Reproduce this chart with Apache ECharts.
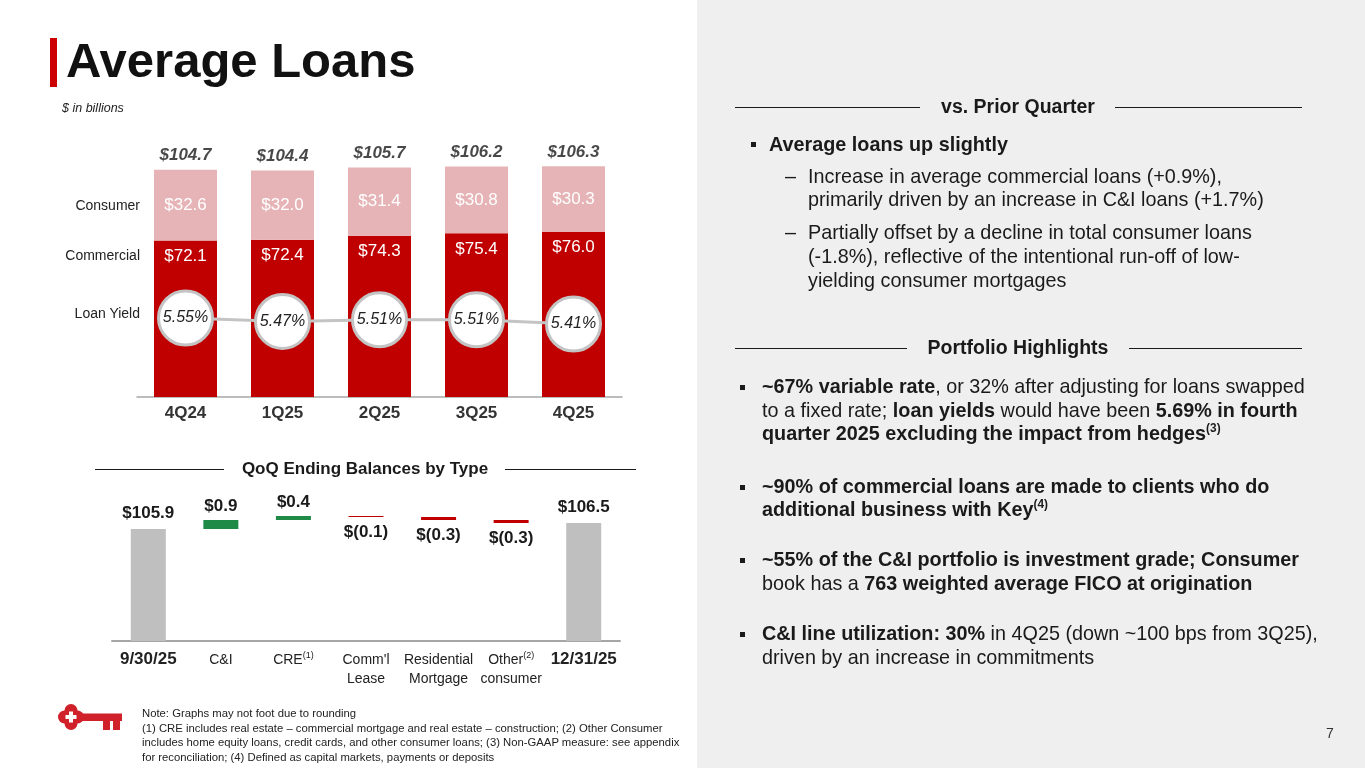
<!DOCTYPE html>
<html><head><meta charset="utf-8">
<script src="https://cdn.jsdelivr.net/npm/echarts@6/dist/echarts.min.js"></script>
<style>
html,body{margin:0;padding:0;width:1365px;height:768px;overflow:hidden;background:#fff;font-family:"Liberation Sans",Arial,sans-serif;color:#1a1a1a;}
#panel{position:absolute;left:697px;top:0;width:668px;height:768px;background:#efefef;}
#chart{position:absolute;left:0;top:0;width:1365px;height:768px;}
.t{position:absolute;white-space:nowrap;line-height:1;}
.c{position:absolute;white-space:nowrap;line-height:1;text-align:center;}
.hl{position:absolute;height:1px;background:#1a1a1a;}
sup{font-size:60%;vertical-align:top;position:relative;top:-1px;}
.r{font-size:19.8px;}
.bl{position:absolute;width:5px;height:5px;background:#1a1a1a;}
b{font-weight:bold;}
</style></head>
<body>
<div id="panel"></div>
<div id="chart"></div>

<!-- title -->
<div style="position:absolute;left:50px;top:38px;width:7px;height:49px;background:#cc0000;"></div>
<div class="t" style="left:66px;top:36px;font-size:49px;font-weight:bold;color:#111;">Average Loans</div>
<div class="t" style="left:62px;top:102px;font-size:12.5px;font-style:italic;color:#222;">$ in billions</div>

<!-- left labels -->
<div class="t" style="right:1225px;top:198px;font-size:14px;color:#222;">Consumer</div>
<div class="t" style="right:1225px;top:248px;font-size:14px;color:#222;">Commercial</div>
<div class="t" style="right:1225px;top:306px;font-size:14px;color:#222;">Loan Yield</div>

<!-- waterfall heading -->
<div class="hl" style="left:95px;top:469px;width:129px;"></div>
<div class="hl" style="left:505px;top:469px;width:131px;"></div>
<div class="c" style="left:225px;width:280px;top:460px;font-size:17px;font-weight:bold;color:#1a1a1a;">QoQ Ending Balances by Type</div>

<!-- footnote -->
<svg style="position:absolute;left:57px;top:702px;" width="72" height="30" viewBox="0 0 72 30">
  <g fill="#d0202a">
    <circle cx="14" cy="8.5" r="6.5"/><circle cx="14" cy="21.5" r="6.5"/>
    <circle cx="7.5" cy="15" r="6.5"/><circle cx="20.5" cy="15" r="6.5"/>
    <rect x="22" y="11.5" width="43" height="7.5"/>
    <rect x="46" y="16" width="7" height="12"/><rect x="56" y="16" width="7" height="12"/>
  </g>
  <g fill="#fff"><rect x="12" y="9.5" width="4" height="11"/><rect x="8.5" y="13" width="11" height="4"/></g>
</svg>
<div class="t" style="left:142px;top:706px;font-size:11.3px;line-height:14.5px;color:#222;">Note: Graphs may not foot due to rounding<br>(1) CRE includes real estate – commercial mortgage and real estate – construction; (2) Other Consumer<br>includes home equity loans, credit cards, and other consumer loans; (3) Non-GAAP measure: see appendix<br>for reconciliation; (4) Defined as capital markets, payments or deposits</div>
<div class="t" style="left:1326px;top:726px;font-size:14px;color:#333;">7</div>

<!-- right panel -->
<div class="hl" style="left:735px;top:107px;width:185px;"></div>
<div class="hl" style="left:1115px;top:107px;width:187px;"></div>
<div class="c" style="left:918px;width:200px;top:97px;font-size:19.5px;font-weight:bold;">vs. Prior Quarter</div>
<div class="bl" style="left:751px;top:142px;"></div>
<div class="t r" style="left:769px;top:135px;font-weight:bold;">Average loans up slightly</div>
<div class="t r" style="left:785px;top:167px;">–</div>
<div class="t r" style="left:808px;top:167px;">Increase in average commercial loans (+0.9%),</div>
<div class="t r" style="left:808px;top:190px;">primarily driven by an increase in C&amp;I loans (+1.7%)</div>
<div class="t r" style="left:785px;top:223px;">–</div>
<div class="t r" style="left:808px;top:223px;">Partially offset by a decline in total consumer loans</div>
<div class="t r" style="left:808px;top:247px;">(-1.8%), reflective of the intentional run-off of low-</div>
<div class="t r" style="left:808px;top:271px;">yielding consumer mortgages</div>

<div class="hl" style="left:735px;top:348px;width:172px;"></div>
<div class="hl" style="left:1129px;top:348px;width:173px;"></div>
<div class="c" style="left:908px;width:220px;top:338px;font-size:19.5px;font-weight:bold;">Portfolio Highlights</div>

<div class="bl" style="left:740px;top:385px;"></div>
<div class="t r" style="left:762px;top:377px;"><b>~67% variable rate</b>, or 32% after adjusting for loans swapped</div>
<div class="t r" style="left:762px;top:401px;">to a fixed rate; <b>loan yields</b> would have been <b>5.69% in fourth</b></div>
<div class="t r" style="left:762px;top:424px;"><b>quarter 2025 excluding the impact from hedges<sup>(3)</sup></b></div>

<div class="bl" style="left:740px;top:485px;"></div>
<div class="t r" style="left:762px;top:477px;"><b>~90% of commercial loans are made to clients who do</b></div>
<div class="t r" style="left:762px;top:500px;"><b>additional business with Key<sup>(4)</sup></b></div>

<div class="bl" style="left:740px;top:558px;"></div>
<div class="t r" style="left:762px;top:550px;"><b>~55% of the C&amp;I portfolio is investment grade; Consumer</b></div>
<div class="t r" style="left:762px;top:574px;">book has a <b>763 weighted average FICO at origination</b></div>

<div class="bl" style="left:740px;top:632px;"></div>
<div class="t r" style="left:762px;top:624px;"><b>C&amp;I line utilization: 30%</b> in 4Q25 (down ~100 bps from 3Q25),</div>
<div class="t r" style="left:762px;top:648px;">driven by an increase in commitments</div>

<script>
// ---- Average loans data ($ billions) ----
const quarters = ['4Q24', '1Q25', '2Q25', '3Q25', '4Q25'];
const commercial = [72.1, 72.4, 74.3, 75.4, 76.0];
const consumer = [32.6, 32.0, 31.4, 30.8, 30.3];
const totals = [104.7, 104.4, 105.7, 106.2, 106.3];
const loanYield = [5.55, 5.47, 5.51, 5.51, 5.41];

// ---- QoQ ending balances by type ----
const wfCategories = ['9/30/25', 'C&I', 'CRE', "Comm'l\nLease", 'Residential\nMortgage', 'Other\nconsumer', '12/31/25'];
const wfSuperscripts = ['', '', '(1)', '', '', '(2)', ''];
const wfStart = 105.9;
const wfDeltas = [0.9, 0.4, -0.1, -0.3, -0.3];
const wfEnd = 106.5;

// build waterfall stacks
const n = wfCategories.length;
const wfBase = Array(n).fill('-'), wfTotal = Array(n).fill('-'), wfUp = Array(n).fill('-'), wfDown = Array(n).fill('-');
wfTotal[0] = wfStart; wfTotal[n - 1] = wfEnd;
let run = wfStart;
wfDeltas.forEach((d, i) => {
  const idx = i + 1;
  if (d >= 0) { wfBase[idx] = +run.toFixed(2); wfUp[idx] = d; }
  else { wfBase[idx] = +(run + d).toFixed(2); wfDown[idx] = -d; }
  run += d;
});
const fmtDelta = d => d >= 0 ? '$' + d.toFixed(1) : '$(' + (-d).toFixed(1) + ')';

const FONT = '"Liberation Sans", Arial, sans-serif';
const chart = echarts.init(document.getElementById('chart'), null, { renderer: 'canvas' });

const wfLabelFormatter = (v, i) => {
  if (i === 0 || i === n - 1) return '{b|' + v + '}';
  const lines = v.split('\n');
  return lines.map((ln, k) => {
    let s = '{n|' + ln + '}';
    if (k === 0 && wfSuperscripts[i]) s += '{s|' + wfSuperscripts[i] + '}';
    return s;
  }).join('\n');
};

chart.setOption({
  animation: false,
  textStyle: { fontFamily: FONT },
  grid: [
    { left: 137, right: 743, top: 130, bottom: 371 },
    { left: 112, right: 745, top: 501, bottom: 127 }
  ],
  xAxis: [
    { type: 'category', gridIndex: 0, data: quarters,
      axisLine: { lineStyle: { color: '#a6a6a6', width: 1.5 } }, axisTick: { show: false },
      axisLabel: { color: '#333', fontSize: 17, fontWeight: 'bold', margin: 8, fontFamily: FONT } },
    { type: 'category', gridIndex: 1, data: wfCategories,
      axisLine: { lineStyle: { color: '#a6a6a6', width: 2 } }, axisTick: { show: false },
      axisLabel: { interval: 0, margin: 10, fontFamily: FONT, formatter: wfLabelFormatter,
        rich: {
          b: { fontSize: 17, fontWeight: 'bold', color: '#222', fontFamily: FONT },
          n: { fontSize: 14, color: '#222', lineHeight: 19, fontFamily: FONT },
          s: { fontSize: 9, color: '#222', verticalAlign: 'top', lineHeight: 19, padding: [0, 0, 6, 0], fontFamily: FONT }
        } } }
  ],
  yAxis: [
    { type: 'value', gridIndex: 0, min: 0, max: 123, show: false },
    { type: 'value', gridIndex: 0, min: 3.707, max: 9.937, show: false },
    { type: 'value', gridIndex: 1, min: 94.7, max: 108.7, show: false }
  ],
  series: [
    { name: 'Commercial', type: 'bar', xAxisIndex: 0, yAxisIndex: 0, stack: 'avg', barWidth: 63,
      data: commercial, itemStyle: { color: '#c00000' },
      label: { show: true, position: 'insideTop', distance: 7, color: '#fff', fontSize: 17, fontFamily: FONT,
        formatter: p => '$' + p.value.toFixed(1) } },
    { name: 'Consumer', type: 'bar', xAxisIndex: 0, yAxisIndex: 0, stack: 'avg', barWidth: 63,
      data: consumer, itemStyle: { color: '#e6b4b6' },
      label: { show: true, position: 'inside', color: '#fff', fontSize: 17, fontFamily: FONT,
        formatter: p => '$' + p.value.toFixed(1) } },
    { name: 'Total', type: 'scatter', xAxisIndex: 0, yAxisIndex: 0, data: totals, symbolSize: 1,
      itemStyle: { color: 'rgba(0,0,0,0)' },
      label: { show: true, position: 'top', distance: 5, color: '#1a1a1a', fontSize: 17, fontWeight: 'bold',
        fontStyle: 'italic', fontFamily: FONT, formatter: p => '$' + p.value.toFixed(1) } },
    { name: 'Loan Yield', type: 'line', xAxisIndex: 0, yAxisIndex: 1, data: loanYield, z: 5,
      lineStyle: { color: '#c4c4c4', width: 3 }, symbol: 'circle', symbolSize: 54,
      itemStyle: { color: '#ffffff', borderColor: '#c4c4c4', borderWidth: 3 },
      label: { show: true, position: 'inside', color: '#222', fontSize: 16, fontStyle: 'italic', fontFamily: FONT,
        formatter: p => p.value.toFixed(2) + '%' } },

    { name: 'base', type: 'bar', xAxisIndex: 1, yAxisIndex: 2, stack: 'wf', barWidth: 35, data: wfBase,
      itemStyle: { color: 'rgba(0,0,0,0)' }, silent: true },
    { name: 'balance', type: 'bar', xAxisIndex: 1, yAxisIndex: 2, stack: 'wf', barWidth: 35, data: wfTotal,
      itemStyle: { color: '#bfbfbf' },
      label: { show: true, position: 'top', distance: 7, color: '#1a1a1a', fontSize: 17, fontWeight: 'bold', fontFamily: FONT,
        formatter: p => '$' + p.value.toFixed(1) } },
    { name: 'increase', type: 'bar', xAxisIndex: 1, yAxisIndex: 2, stack: 'wf', barWidth: 35, data: wfUp,
      itemStyle: { color: '#1e8a45' },
      label: { show: true, position: 'top', distance: 5, color: '#1a1a1a', fontSize: 17, fontWeight: 'bold', fontFamily: FONT,
        formatter: p => fmtDelta(p.value) } },
    { name: 'decrease', type: 'bar', xAxisIndex: 1, yAxisIndex: 2, stack: 'wf', barWidth: 35, data: wfDown,
      itemStyle: { color: '#c00000' },
      label: { show: true, position: 'bottom', distance: 7, color: '#1a1a1a', fontSize: 17, fontWeight: 'bold', fontFamily: FONT,
        formatter: p => fmtDelta(-p.value) } }
  ]
});
</script>
</body></html>
